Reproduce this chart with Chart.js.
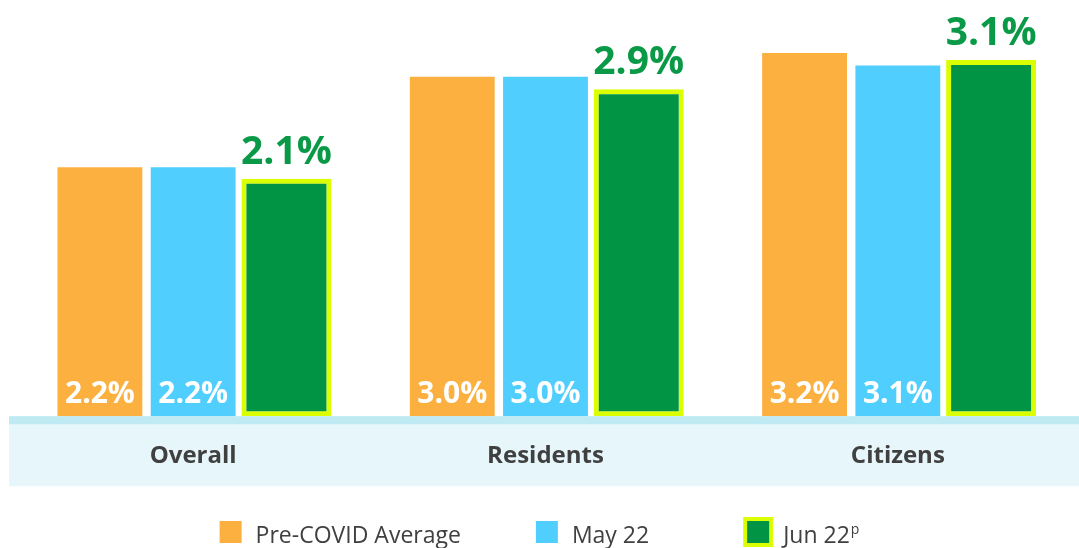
<!DOCTYPE html>
<html>
<head>
<meta charset="utf-8">
<script src="https://cdn.jsdelivr.net/npm/chart.js@4.4.1/dist/chart.umd.min.js"></script>
<style>
  html, body { margin: 0; padding: 0; background: #fff; }
  #wrap { width: 1079px; height: 548px; }
</style>
</head>
<body>
<div id="wrap"><canvas id="chart"></canvas></div>
<script>
// data
const categories = ["Overall", "Residents", "Citizens"];
const seriesNames = ["Pre-COVID Average", "May 22", "Jun 22"];
const seriesSup = ["", "", "p"];
const preCovid = [2.2, 3.0, 3.21];
const may22 = [2.2, 3.0, 3.1];
const jun22 = [2.1, 2.89, 3.15];
const preCovidLabels = ["2.2%", "3.0%", "3.2%"];
const may22Labels = ["2.2%", "3.0%", "3.1%"];
const jun22Labels = ["2.1%", "2.9%", "3.1%"];

const FONT = "'Open Sans'";

// light blue band under the bars, behind the category labels
const bandPlugin = {
  id: "band",
  beforeDraw(chart) {
    const ctx = chart.ctx;
    const base = chart.chartArea.bottom;
    ctx.save();
    ctx.fillStyle = "#e6f6fa";
    ctx.fillRect(9, base, chart.width - 9, 70);
    ctx.fillStyle = "#bfeaf3";
    ctx.fillRect(9, base, chart.width - 9, 8);
    ctx.restore();
  }
};

// percentage labels: white inside the bar foot, green above the last series
const valueLabels = {
  id: "valueLabels",
  afterDatasetsDraw(chart) {
    const ctx = chart.ctx;
    ctx.save();
    ctx.textAlign = "center";
    ctx.textBaseline = "alphabetic";
    chart.data.datasets.forEach((ds, i) => {
      chart.getDatasetMeta(i).data.forEach((bar, j) => {
        const txt = ds.valueLabels[j];
        if (ds.labelInside) {
          ctx.font = "bold 30px " + FONT;
          ctx.fillStyle = "#ffffff";
          ctx.fillText(txt, bar.x, bar.base - 13);
        } else {
          ctx.font = "bold 39px " + FONT;
          ctx.fillStyle = "#0a9a47";
          ctx.fillText(txt, bar.x, bar.y - 15);
        }
      });
    });
    ctx.restore();
  }
};

// legend row at the bottom
const legendPlugin = {
  id: "customLegend",
  afterDraw(chart) {
    const ctx = chart.ctx;
    const baseline = 543;
    const box = 22;
    const textGap = 14;
    const gaps = [75, 98];
    ctx.save();
    const items = chart.data.datasets.map((ds, i) => {
      ctx.font = "23px " + FONT;
      const tw = ctx.measureText(ds.label).width;
      ctx.font = "14px " + FONT;
      const sw = seriesSup[i] ? ctx.measureText(seriesSup[i]).width + 1 : 0;
      return { ds, i, tw, sw, w: box + textGap + tw + sw };
    });
    let total = items.reduce((s, it) => s + it.w, 0) + gaps.reduce((s, g) => s + g, 0);
    let x = chart.width / 2 - total / 2;
    items.forEach((it, k) => {
      const top = baseline - 22;
      if (it.ds.borderWidth) {
        ctx.fillStyle = it.ds.borderColor;
        ctx.fillRect(x - 4, top - 4, box + 8, box + 8);
      }
      ctx.fillStyle = it.ds.backgroundColor;
      ctx.fillRect(x, top, box, box);
      ctx.fillStyle = "#404040";
      ctx.textBaseline = "alphabetic";
      ctx.textAlign = "left";
      ctx.font = "23px " + FONT;
      ctx.fillText(it.ds.label, x + box + textGap, baseline);
      if (seriesSup[it.i]) {
        ctx.font = "14px " + FONT;
        ctx.fillText(seriesSup[it.i], x + box + textGap + it.tw + 1, baseline - 9);
      }
      x += it.w + (gaps[k] || 0);
    });
    ctx.restore();
  }
};

const ctx = document.getElementById("chart").getContext("2d");
new Chart(ctx, {
  type: "bar",
  data: {
    labels: categories,
    datasets: [
      {
        label: seriesNames[0],
        data: preCovid,
        valueLabels: preCovidLabels,
        labelInside: true,
        backgroundColor: "#fbb040",
        barPercentage: 0.91,
        categoryPercentage: 0.794,
      },
      {
        label: seriesNames[1],
        data: may22,
        valueLabels: may22Labels,
        labelInside: true,
        backgroundColor: "#50cfff",
        barPercentage: 0.91,
        categoryPercentage: 0.794,
      },
      {
        label: seriesNames[2],
        data: jun22,
        valueLabels: jun22Labels,
        labelInside: false,
        backgroundColor: "#009444",
        borderColor: "#dcff00",
        borderWidth: 5,
        borderSkipped: false,
        barPercentage: 0.965,
        categoryPercentage: 0.794,
      },
    ],
  },
  options: {
    responsive: true,
    maintainAspectRatio: false,
    animation: false,
    layout: {
      padding: { top: 9, left: 17, right: 5, bottom: 51 },
    },
    scales: {
      x: {
        grid: { display: false, drawTicks: false },
        border: { display: false },
        ticks: {
          color: "#404040",
          font: { family: FONT, size: 24, weight: "bold" },
          padding: 26,
        },
      },
      y: {
        display: false,
        min: 0,
        max: 3.6,
      },
    },
    plugins: {
      legend: { display: false },
      tooltip: { enabled: false },
    },
  },
  plugins: [bandPlugin, valueLabels, legendPlugin],
});
</script>
</body>
</html>
